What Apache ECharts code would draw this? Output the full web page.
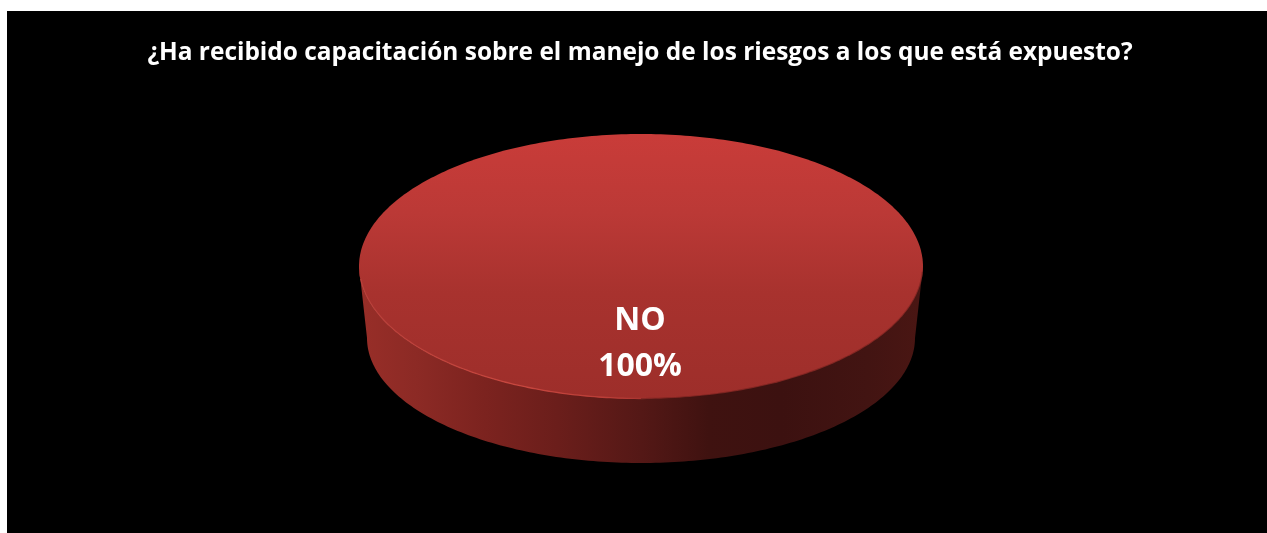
<!DOCTYPE html>
<html>
<head>
<meta charset="utf-8">
<style>html,body{margin:0;padding:0;background:#fff}#c{width:1267px;height:533px}</style>
<script src="https://cdn.jsdelivr.net/npm/echarts@6/dist/echarts.min.js"></script>
</head>
<body>
<div id="c"></div>
<script>
const titleText = '¿Ha recibido capacitación sobre el manejo de los riesgos a los que está expuesto?';
const categories = ['NO'];
const values = [100];

const chart = echarts.init(document.getElementById('c'), null, {renderer: 'canvas'});
const total = values.reduce((a, b) => a + b, 0);

function arcPts(cx, cy, rx, ry, a0, a1, n) {
  const p = [];
  for (let i = 0; i <= n; i++) {
    const a = a0 + (a1 - a0) * i / n;
    p.push([cx + rx * Math.cos(a), cy + ry * Math.sin(a)]);
  }
  return p;
}

const TOP = {cx: 641, cy: 266.5, rx: 282, ry: 132.5};
const LOW = {cx: 641, cy: 338, rx: 274, ry: 125};

function linear(x0, x1, stops) {
  return {type: 'linear', x: x0, y: 0, x2: x1, y2: 0, global: true,
    colorStops: stops.map(s => ({offset: s[0], color: s[1]}))};
}

function renderItem(params, api) {
  const v = api.value(1);
  const share = v / total;
  const sweep = share * Math.PI * 2;
  const start = Math.PI / 2 - sweep / 2;
  const topPts = arcPts(TOP.cx, TOP.cy, TOP.rx, TOP.ry, start, start + sweep, 360);
  const sidePts = arcPts(TOP.cx, TOP.cy, TOP.rx, TOP.ry, Math.PI, 0, 180)
    .concat(arcPts(LOW.cx, LOW.cy, LOW.rx, LOW.ry, 0, Math.PI, 180));
  const rimPts = arcPts(TOP.cx, TOP.cy, TOP.rx - 0.5, TOP.ry - 0.5, Math.PI * 0.97, Math.PI * 0.42, 120);
  const edgePts = arcPts(TOP.cx, TOP.cy, TOP.rx - 0.5, TOP.ry - 0.5, Math.PI * 0.5, 0.04, 100);
  return {
    type: 'group',
    children: [
      {type: 'polygon', shape: {points: sidePts},
        style: {fill: linear(360, 923, [
          [0, '#982e28'], [0.1, '#8c2a25'], [0.22, '#7c231f'], [0.35, '#6b1e1b'],
          [0.5, '#541816'], [0.62, '#3f1210'], [0.75, '#3c1110'], [0.9, '#421412'], [1, '#4a1613']
        ])}},
      {type: 'polygon', shape: {points: topPts},
        style: {fill: {type: 'linear', x: 0, y: TOP.cy - TOP.ry, x2: 0, y2: TOP.cy + TOP.ry, global: true,
          colorStops: [
            {offset: 0, color: '#c93c39'}, {offset: 0.3, color: '#bb3936'},
            {offset: 0.6, color: '#a8322e'}, {offset: 1, color: '#9d2e2a'}
          ]}}},
      {type: 'polyline', shape: {points: rimPts},
        style: {fill: null, lineWidth: 1.3, stroke: linear(360, 670, [
          [0, '#b8403a'], [0.5, '#c8473f'], [0.85, '#b83c36'], [1, 'rgba(160,48,44,0)']
        ])}},
      {type: 'polyline', shape: {points: edgePts},
        style: {fill: null, lineWidth: 1.2, stroke: 'rgba(70,20,18,0.35)'}},
      {type: 'text', style: {
        text: categories[params.dataIndex] + '\n' + Math.round(share * 100) + '%',
        x: 640, y: 344, align: 'center', verticalAlign: 'middle',
        fill: '#fff', font: 'bold 32px "Open Sans"', lineHeight: 46
      }}
    ]
  };
}

chart.setOption({
  animation: false,
  backgroundColor: '#fff',
  graphic: [{type: 'rect', z: -10, silent: true, shape: {x: 7, y: 11, width: 1260, height: 522}, style: {fill: '#000'}}],
  title: {
    text: titleText, left: 635, top: 36, textAlign: 'center',
    textStyle: {color: '#fff', fontFamily: 'Open Sans', fontWeight: 'bold', fontSize: 24.45}
  },
  series: [{
    type: 'custom', coordinateSystem: 'none', renderItem,
    data: categories.map((c, i) => ({name: c, value: [i, values[i]]}))
  }]
});
</script>
</body>
</html>
